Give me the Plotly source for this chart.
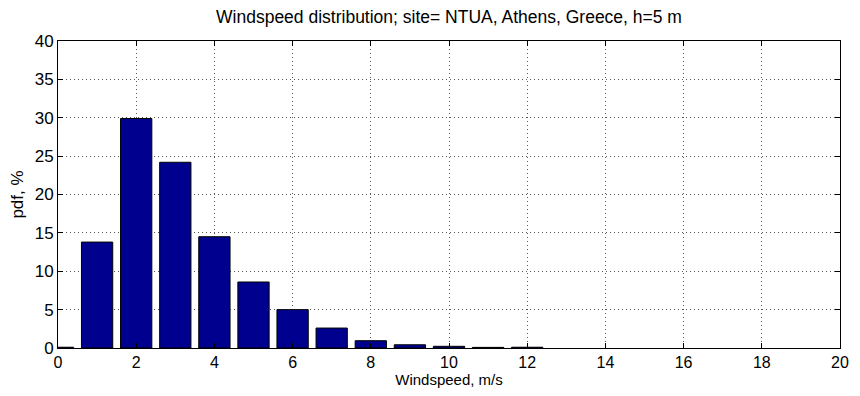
import plotly.graph_objects as go

# windspeed bins (m/s) and pdf (%)
speed = [0, 1, 2, 3, 4, 5, 6, 7, 8, 9, 10, 11, 12]
pdf = [0.1, 13.8, 29.9, 24.2, 14.5, 8.6, 5.0, 2.6, 0.95, 0.42, 0.22, 0.08, 0.1]

x_ticks = [0, 2, 4, 6, 8, 10, 12, 14, 16, 18, 20]
y_ticks = [0, 5, 10, 15, 20, 25, 30, 35, 40]

font = "Liberation Sans, Arial, sans-serif"

fig = go.Figure(go.Bar(
    x=speed, y=pdf, width=0.8,
    marker=dict(color="#00008f", line=dict(color="black", width=1)),
))

axis = dict(
    showline=True, linecolor="black", linewidth=1, mirror="ticks",
    ticks="inside", ticklen=5, tickcolor="black",
    showgrid=True, gridcolor="#555555", griddash="1px,3px", gridwidth=1,
    zeroline=False, automargin=False,
    tickfont=dict(family=font, size=17, color="black"),
)

# the page body has an 8px margin, so keep the figure inside the window
fig.update_layout(
    width=844, height=380,
    margin=dict(l=50, r=12, t=33, b=40),
    paper_bgcolor="white", plot_bgcolor="white",
    showlegend=False,
    title=dict(text="Windspeed distribution; site= NTUA, Athens, Greece, h=5 m",
               x=0.5, xref="paper", y=1, yanchor="top", pad=dict(t=3),
               font=dict(family=font, size=17.5, color="black")),
    xaxis=dict(axis, range=[0, 20], tickvals=x_ticks,
               tickfont=dict(family=font, size=16, color="black"),
               title=dict(text="Windspeed, m/s", standoff=2,
                          font=dict(family=font, size=15, color="black"))),
    yaxis=dict(axis, range=[0, 40], tickvals=y_ticks,
               title=dict(text="pdf, %", standoff=6,
                          font=dict(family=font, size=17, color="black"))),
)

fig.write_html("out.html")
